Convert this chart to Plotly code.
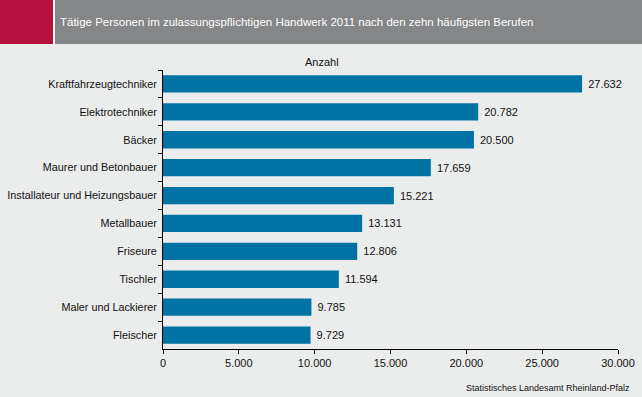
import plotly.graph_objects as go

categories = ["Kraftfahrzeugtechniker", "Elektrotechniker", "Bäcker", "Maurer und Betonbauer",
              "Installateur und Heizungsbauer", "Metallbauer", "Friseure", "Tischler",
              "Maler und Lackierer", "Fleischer"]
values = [27632, 20782, 20500, 17659, 15221, 13131, 12806, 11594, 9785, 9729]
x_ticks = [0, 5000, 10000, 15000, 20000, 25000, 30000]
x_tick_labels = ["0", "5.000", "10.000", "15.000", "20.000", "25.000", "30.000"]

W, H = 642, 397
ML, MR, MT, MB = 163, 24, 70, 48
PW, PH = W - ML - MR, H - MT - MB

def px(x):
    return (x - ML) / PW

def py(y):
    return 1 - (y - MT) / PH

FONT = "Liberation Sans, Arial, sans-serif"

fig = go.Figure(go.Bar(
    x=values, y=categories, orientation="h",
    marker=dict(color="#0072A3", line=dict(width=0)),
    text=["\u00a0" + f"{v:,}".replace(",", ".") for v in values],
    textposition="outside", cliponaxis=False,
    textfont=dict(family=FONT, size=11, color="#111111"),
))

fig.update_layout(
    width=W, height=H,
    margin=dict(l=ML, r=MR, t=MT, b=MB, autoexpand=False),
    paper_bgcolor="#ebecec", plot_bgcolor="#ebecec",
    bargap=0.38, showlegend=False,
    font=dict(family=FONT, size=11, color="#111111"),
    xaxis=dict(range=[0, 30000], tickvals=x_ticks, ticktext=x_tick_labels, automargin=False,
               showgrid=False, zeroline=False, showline=True, linecolor="black", linewidth=1,
               ticks="outside", ticklen=4, tickcolor="black", fixedrange=True),
    yaxis=dict(autorange="reversed", showgrid=False, zeroline=False, showline=True, automargin=False,
               linecolor="black", linewidth=1, ticks="outside", ticklen=4, tickcolor="black",
               tickson="boundaries", ticklabelstandoff=3, tickfont=dict(size=10.8)),
    shapes=[
        dict(type="rect", xref="paper", yref="paper", x0=px(0), x1=px(53), y0=py(0), y1=py(44),
             fillcolor="#B5123E", line=dict(width=0), layer="above"),
        dict(type="rect", xref="paper", yref="paper", x0=px(53), x1=px(55), y0=py(0), y1=py(44),
             fillcolor="#ffffff", line=dict(width=0), layer="above"),
        dict(type="rect", xref="paper", yref="paper", x0=px(55), x1=px(642), y0=py(0), y1=py(44),
             fillcolor="#858687", line=dict(width=0), layer="above"),
    ],
    annotations=[
        dict(text="Tätige Personen im zulassungspflichtigen Handwerk 2011 nach den zehn häufigsten Berufen",
             xref="paper", yref="paper", x=px(58), y=py(22), xanchor="left", yanchor="middle",
             showarrow=False, font=dict(family=FONT, size=11.5, color="#ffffff")),
        dict(text="Anzahl", xref="paper", yref="paper", x=px(322), y=py(62), xanchor="center",
             yanchor="middle", showarrow=False, font=dict(family=FONT, size=11, color="#111111")),
        dict(text="Statistisches Landesamt Rheinland-Pfalz", xref="paper", yref="paper",
             x=px(632), y=py(388), xanchor="right", yanchor="middle", showarrow=False,
             font=dict(family=FONT, size=9, color="#111111")),
    ],
)

fig.write_html("out.html", config={"displayModeBar": False},
               post_script="document.body.style.margin='0';document.body.style.overflow='hidden';")
